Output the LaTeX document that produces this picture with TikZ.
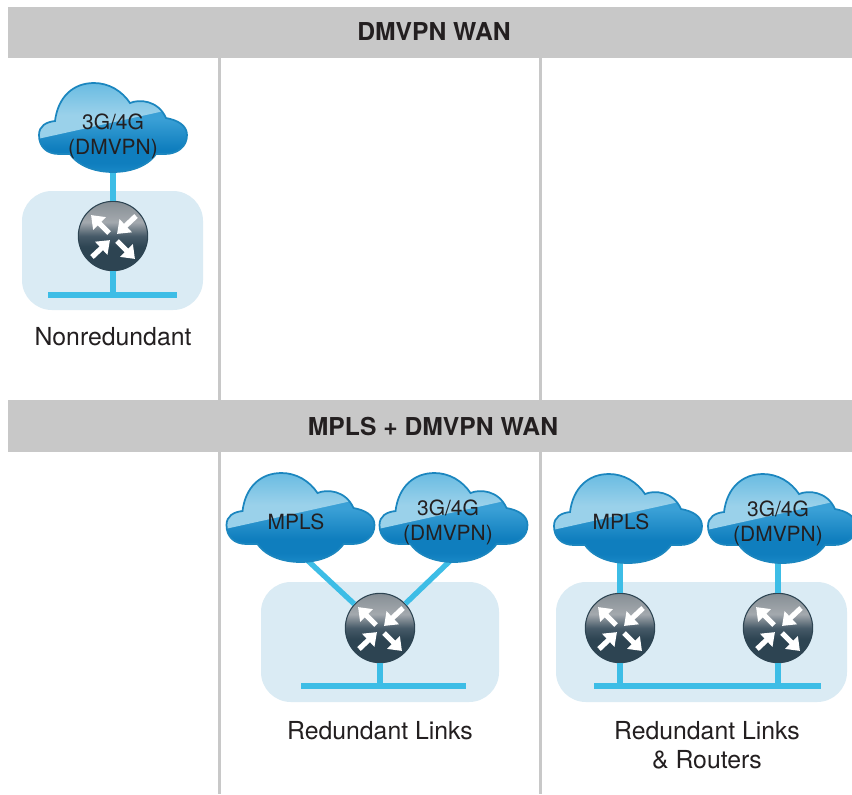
\documentclass[tikz,border=0pt]{standalone}
\usepackage{fontspec}
\setmainfont{TeX Gyre Heros}
\usetikzlibrary{arrows.meta}
\definecolor{hdr}{HTML}{C8C8C8}
\definecolor{panelblue}{HTML}{DAEBF4}
\definecolor{wire}{HTML}{3DBDE6}
\definecolor{txt}{HTML}{231F20}
\definecolor{cloudedge}{HTML}{1B86BF}
\definecolor{ra}{HTML}{2D4452}
\definecolor{rb}{HTML}{465A68}
\definecolor{rc}{HTML}{A4A9AE}
\definecolor{rd}{HTML}{8A9298}
\definecolor{re}{HTML}{56646E}
\definecolor{rf}{HTML}{36495A}
\definecolor{ca}{HTML}{2FA3DD}
\definecolor{cb}{HTML}{0F7EBE}
\definecolor{cc}{HTML}{3AA0D6}
\definecolor{cd}{HTML}{6ABCE2}
\definecolor{ce}{HTML}{9AD1EA}
\definecolor{cf}{HTML}{45A9DB}
\pgfdeclareverticalshading{routershade}{100bp}{
 color(0bp)=(ra); color(42bp)=(ra); color(50bp)=(rb); color(60bp)=(rc); color(73bp)=(rd); color(87bp)=(re); color(100bp)=(rf)}
\pgfdeclareverticalshading{cloudshade}{100bp}{
 color(0bp)=(ca); color(12bp)=(ca); color(30bp)=(cb); color(38bp)=(cb); color(55bp)=(cc); color(100bp)=(cc)}
\pgfdeclareverticalshading{glossshade}{100bp}{
 color(0bp)=(ce); color(45bp)=(ce); color(70bp)=(cd); color(90bp)=(cf); color(100bp)=(cf)}
\tikzset{
 x=0.75pt,y=-0.75pt,
 header/.style={font=\fontsize{18.5}{20}\selectfont\bfseries,text=txt,inner sep=0pt},
 divider/.style={draw=hdr,line width=2.2pt},
 panel/.style={fill=panelblue,draw=none,rounded corners=22.5pt},
 wireline/.style={draw=wire,line width=4pt},
 lbl/.style={font=\fontsize{18.6}{21.7}\selectfont,text=txt,align=center,inner sep=0pt},
 cloudlbl/.style={font=\fontsize{15.7}{18.9}\selectfont,text=txt,align=center,inner sep=0pt},
 router/.style={circle,shade,shading=routershade,draw=ra,line width=0.8pt,minimum size=52pt,inner sep=0pt},
 rarrow/.style={draw=white,line width=3.9pt,-{Triangle[length=9pt,width=13pt,fill=white]},shorten >=-1pt},
}
\newcommand{\cloudpath}{(-74,8) .. controls (-74,-1) and (-67,-5) .. (-58,-6)
  .. controls (-55,-30) and (-40,-44) .. (-19,-44)
  .. controls (-4,-44) and (9,-36) .. (17,-24)
  .. controls (26,-28) and (45,-27) .. (53,-9)
  .. controls (64,-7) and (74,-2) .. (74,8)
  .. controls (74,20) and (64,27) .. (52,27)
  .. controls (49,27) and (46,27) .. (43,27)
  .. controls (34,40) and (16,45) .. (0,45)
  .. controls (-16,45) and (-34,40) .. (-43,27)
  .. controls (-46,27) and (-50,27) .. (-54,27)
  .. controls (-66,27) and (-74,20) .. (-74,8) -- cycle}
\newcommand{\cloudat}[2]{%
 \begin{scope}[shift={(#1,#2)}]
  \shade[shading=cloudshade,draw=none] \cloudpath;
  \begin{scope}
   \clip \cloudpath;
   \shade[shading=glossshade,draw=none] (-80,13) -- (42,-14) .. controls (60,-18) and (70,-20) .. (80,-22) -- (80,-50) -- (-80,-50) -- cycle;
  \end{scope}
  \draw[draw=cloudedge,line width=1.3pt] \cloudpath;
 \end{scope}}
\newcommand{\routerarrows}[2]{%
 \begin{scope}[shift={(#1,#2)}]
  \draw[rarrow] (-4,-3) -- (-21,-20);
  \draw[rarrow] (23,-20) -- (5,-3);
  \draw[rarrow] (-21,21) -- (-4,5);
  \draw[rarrow] (4,5) -- (21,22);
 \end{scope}}
\begin{document}
\begin{tikzpicture}
\useasboundingbox (0,0) rectangle (852,794);
\fill[white] (0,0) rectangle (852,794);
% headers
\fill[hdr] (8,7) rectangle (852,58);
\fill[hdr] (8,400) rectangle (852,452);
\node[header] (h1) at (434,32) {DMVPN WAN};
\node[header] (h2) at (433,426) {MPLS + DMVPN WAN};
% dividers
\draw[divider] (219.5,58) -- (219.5,400);
\draw[divider] (540.5,58) -- (540.5,400);
\draw[divider] (219.5,452) -- (219.5,794);
\draw[divider] (540.5,452) -- (540.5,794);
% panels
\fill[panel] (22,191) rectangle (203,310);
\fill[panel] (261,582) rectangle (499,702);
\fill[panel] (556,582) rectangle (847,702);
% anchors
\coordinate (c1) at (113,165);
\coordinate (c2) at (305,558);
\coordinate (c3) at (453,558);
\coordinate (c4) at (620,558);
\coordinate (c5) at (778,558);
\node[router] (r1) at (113,236) {};
\node[router] (r2) at (380,628) {};
\node[router] (r3) at (620,628) {};
\node[router] (r4) at (778,628) {};
\coordinate (l1a) at (48,295); \coordinate (l1b) at (177,295);
\coordinate (l2a) at (301,686); \coordinate (l2b) at (466,686);
\coordinate (l3a) at (594,686); \coordinate (l3b) at (821,686);
% wires
\draw[wireline] (l1a) -- (l1b);
\draw[wireline] (l2a) -- (l2b);
\draw[wireline] (l3a) -- (l3b);
\draw[wireline] (c1) -- (r1);
\draw[wireline] (r1) -- (r1 |- l1a);
\draw[wireline] (r2) -- (r2 |- l2a);
\draw[wireline] (r3) -- (r3 |- l3a);
\draw[wireline] (r4) -- (r4 |- l3a);
\draw[wireline] (r2) -- (c2);
\draw[wireline] (r2) -- (c3);
\draw[wireline] (r3) -- (c4);
\draw[wireline] (r4) -- (c5);
% router arrows
\foreach \p/\q in {113/236,380/628,620/628,778/628}{\routerarrows{\p}{\q}}
% clouds
\cloudat{113}{127}
\cloudat{300.5}{517}
\cloudat{453.5}{517}
\cloudat{628}{518}
\cloudat{782}{518}
\node[cloudlbl] (t1) at (113,136) {3G/4G\\(DMVPN)};
\node[cloudlbl] (t2) at (296,522) {MPLS};
\node[cloudlbl] (t3) at (448,522) {3G/4G\\(DMVPN)};
\node[cloudlbl] (t4) at (621,522) {MPLS};
\node[cloudlbl] (t5) at (778,523) {3G/4G\\(DMVPN)};
\node[lbl] (n1) at (113,337) {Nonredundant};
\node[lbl] (n2) at (380,731) {Redundant Links};
\node[lbl] (n3) at (707,745) {Redundant Links\\\& Routers};
\end{tikzpicture}
\end{document}
